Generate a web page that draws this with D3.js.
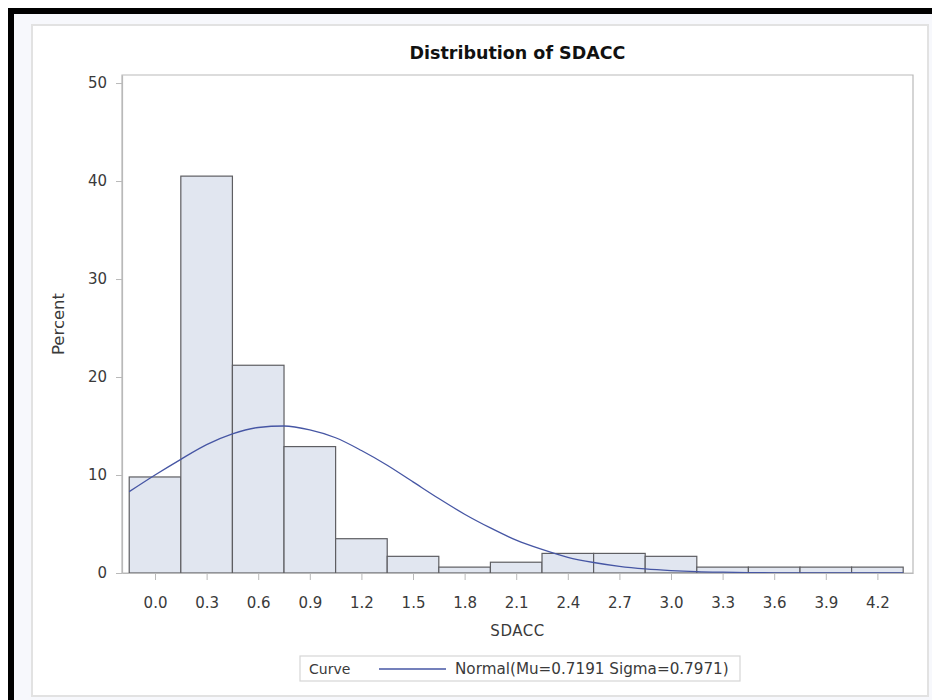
<!DOCTYPE html>
<html><head><meta charset="utf-8">
<script src="https://cdn.jsdelivr.net/npm/d3@7"></script>
<style>
html,body{margin:0;padding:0;background:#fff;}
svg{display:block;}
text{font-family:"DejaVu Sans",sans-serif;}
</style></head>
<body>
<script>
// ---- data ----
const binMidpoints = [0.0,0.3,0.6,0.9,1.2,1.5,1.8,2.1,2.4,2.7,3.0,3.3,3.6,3.9,4.2];
const percents     = [9.8,40.5,21.2,12.9,3.5,1.7,0.6,1.1,2.0,2.0,1.7,0.6,0.6,0.6,0.6];
const binWidth = 0.3;
const xTickLabels = ["0.0","0.3","0.6","0.9","1.2","1.5","1.8","2.1","2.4","2.7","3.0","3.3","3.6","3.9","4.2"];
const yTicks = [0,10,20,30,40,50];
// fitted normal curve (percent per bin)
const curveX = [-0.15,0,0.15,0.3,0.45,0.6,0.75,0.9,1.05,1.2,1.35,1.5,1.65,1.8,1.95,2.1,2.25,2.4,2.55,2.7,2.85,3.0,3.15,3.3,3.45,3.6,3.75,3.9,4.05,4.2,4.35];
const curveY = [8.3,10.0,11.6,13.1,14.2,14.85,15.0,14.6,13.8,12.5,11.0,9.3,7.6,6.0,4.6,3.35,2.4,1.6,1.07,0.68,0.42,0.25,0.14,0.08,0.04,0.02,0.01,0,0,0,0];
const titleText = "Distribution of SDACC";
const xLabel = "SDACC";
const yLabel = "Percent";
const legendTitle = "Curve";
const legendText = "Normal(Mu=0.7191 Sigma=0.7971)";

const W = 932, H = 700;
const svg = d3.select("body").append("svg").attr("width", W).attr("height", H);

// page frame
svg.append("rect").attr("x",0).attr("y",0).attr("width",W).attr("height",H).attr("fill","#fff");
svg.append("rect").attr("x",14).attr("y",14).attr("width",W-14).attr("height",H-14).attr("fill","#f7f8fc");
svg.append("rect").attr("x",8).attr("y",8).attr("width",W-8).attr("height",6).attr("fill","#000");
svg.append("rect").attr("x",8).attr("y",8).attr("width",6).attr("height",H-8).attr("fill","#000");
svg.append("rect").attr("x",32).attr("y",25).attr("width",896).attr("height",671)
  .attr("fill","#fff").attr("stroke","#e2e2e2").attr("stroke-width",2);

const L = 122, R = 913, T = 75, B = 573;
const x = d3.scaleLinear().domain([-0.192, 4.407]).range([L, R]);
const y = d3.scaleLinear().domain([0, 50.82]).range([B, T]);

const fs = 15;
const txtCol = "#3a3a3a";

// title
svg.append("text").attr("x",(L+R)/2).attr("y",59).attr("text-anchor","middle")
  .attr("font-size",17.5).attr("font-weight","bold").attr("fill","#111").text(titleText);

// wall frame
const axisCol = "#b9b9b9";
svg.append("path").attr("d",`M${L},${B}V${T}H${R}V${B}Z`).attr("fill","none").attr("stroke",axisCol).attr("stroke-width",1.2);

// bars
svg.append("g").selectAll("rect").data(binMidpoints).join("rect")
  .attr("x", d => x(d - binWidth/2))
  .attr("width", d => x(d + binWidth/2) - x(d - binWidth/2))
  .attr("y", (d,i) => y(percents[i]))
  .attr("height", (d,i) => y(0) - y(percents[i]))
  .attr("fill","#e1e6f0").attr("stroke","#5e5e62").attr("stroke-width",1.2);

// curve
const pts = curveX.map((v,i)=>[v,curveY[i]]);
svg.append("path").datum(pts)
  .attr("d", d3.line().x(d=>x(d[0])).y(d=>y(d[1])).curve(d3.curveMonotoneX))
  .attr("fill","none").attr("stroke","#4656a4").attr("stroke-width",1.3);

// x axis
const xAxis = d3.axisBottom(x).tickValues(binMidpoints).tickFormat((d,i)=>xTickLabels[i]).tickSize(7).tickSizeOuter(0);
const gx = svg.append("g").attr("transform",`translate(0,${B})`).call(xAxis);
gx.select(".domain").attr("stroke",axisCol).attr("stroke-width",1.2);
gx.selectAll(".tick line").attr("stroke",axisCol);
gx.selectAll(".tick text").attr("font-size",fs).attr("fill",txtCol).attr("y",35).attr("dy",null).attr("font-family","DejaVu Sans");

// y axis
const yAxis = d3.axisLeft(y).tickValues(yTicks).tickFormat(d3.format("d")).tickSize(6).tickSizeOuter(0);
const gy = svg.append("g").attr("transform",`translate(${L},0)`).call(yAxis);
gy.select(".domain").attr("stroke",axisCol).attr("stroke-width",1.2);
gy.selectAll(".tick line").attr("stroke",axisCol);
gy.selectAll(".tick text").attr("font-size",fs).attr("fill",txtCol).attr("x",-15).attr("font-family","DejaVu Sans");

// axis labels
svg.append("text").attr("x",(L+R)/2).attr("y",636).attr("text-anchor","middle")
  .attr("font-size",fs).attr("letter-spacing",0.5).attr("fill",txtCol).text(xLabel);
svg.append("text").attr("transform",`translate(64,${(T+B)/2}) rotate(-90)`).attr("text-anchor","middle")
  .attr("font-size",16.5).attr("fill",txtCol).text(yLabel);

// legend
const lg = svg.append("g");
lg.append("rect").attr("x",300).attr("y",656).attr("width",440).attr("height",25)
  .attr("fill","#fff").attr("stroke","#d6d6d6").attr("stroke-width",1.2);
lg.append("text").attr("x",309).attr("y",674).attr("font-size",14).attr("fill",txtCol).text(legendTitle);
lg.append("line").attr("x1",379).attr("x2",446).attr("y1",669).attr("y2",669)
  .attr("stroke","#4656a4").attr("stroke-width",1.3);
lg.append("text").attr("x",455).attr("y",674).attr("font-size",15.2).attr("fill",txtCol).text(legendText);
</script>
</body></html>
